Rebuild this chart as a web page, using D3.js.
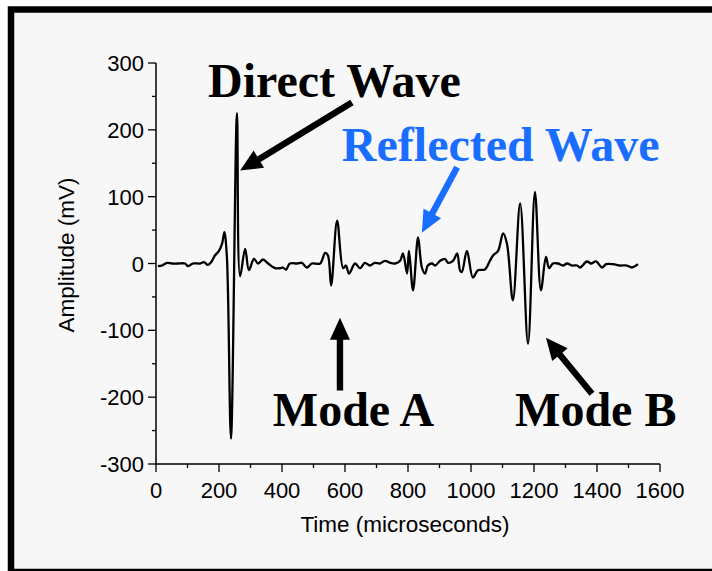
<!DOCTYPE html>
<html><head><meta charset="utf-8">
<script src="https://cdn.jsdelivr.net/npm/d3@7"></script>
<style>body{margin:0;background:#fff}svg{display:block}</style>
</head><body>
<svg id="c" width="712" height="571"></svg>
<script>
// time (microseconds)
const times = [6,19,35,51,70,92,102,117,140,152,165,175,187,200,210,217,225,238,257,267,283,295,311,324,340,356,378,394,403,413,425,448,463,479,495,521,537,546,556,575,594,603,613,632,648,663,679,695,711,727,743,759,775,784,797,803,816,832,844,854,863,876,886,902,917,927,943,956,965,971,987,1006,1022,1044,1060,1070,1086,1102,1114,1133,1156,1181,1203,1222,1238,1248,1260,1276,1292,1305,1321,1337,1346,1368,1381,1397,1416,1429,1451,1473,1495,1511,1530];
// amplitude (mV)
const amplitude = [-4,-3,1,0,0,0,-4,0,0,2,-2,2,12,19,30,47,10,-262,225,-19,22,-10,7,0,6,0,-7,-7,-6,-9,0,0,1,-6,0,0,16,12,-33,64,-7,-3,-15,0,-7,1,-3,1,0,4,1,0,4,15,-15,19,-40,39,-6,-15,-3,0,-3,4,7,1,4,15,-10,-13,19,-21,-10,-9,4,12,19,45,30,-55,90,-120,107,-40,10,-7,0,0,-3,0,-3,-3,-6,3,0,3,-6,-1,-1,-3,-3,-6,-1];
const xTicks = [0,200,400,600,800,1000,1200,1400,1600];
const yTicks = [-300,-200,-100,0,100,200,300];
const labels = ["Direct Wave","Reflected Wave","Mode A","Mode B"];
const labelT = [165,590,371,1140];
const labelV = [248.5,152.7,-242.5,-242.5];
const labelColor = ["#000","#1a6eff","#000","#000"];
// arrows: tail (t,v) -> tip (t,v)
const arrowTail = [[622,241],[956,144],[584,-190],[1384,-195]];
const arrowTip = [[267,139],[844,46],[584,-81],[1238,-111]];
const arrowColor = ["#000","#1a6eff","#000","#000"];

const svg = d3.select("#c");
svg.append("rect").attr("x",11).attr("y",9.5).attr("width",720).attr("height",562.5)
  .attr("fill","#f7f7f7").attr("stroke","#000").attr("stroke-width",6.5);

const x = d3.scaleLinear().domain([0,1600]).range([156,660]);
const y = d3.scaleLinear().domain([-300,300]).range([464,63]);

const font = "'Liberation Sans', Arial, sans-serif";
const g = svg.append("g");
d3.range(-300,301,50).forEach(v=>{
  const major = v%100===0;
  g.append("line").attr("x1",x(0)-(major?8:4)).attr("x2",x(0)).attr("y1",y(v)).attr("y2",y(v)).attr("stroke","#000").attr("stroke-width",1.3);
});
d3.range(0,1601,100).forEach(t=>{
  const major = t%200===0;
  g.append("line").attr("x1",x(t)).attr("x2",x(t)).attr("y1",y(-300)).attr("y2",y(-300)+(major?8:4)).attr("stroke","#000").attr("stroke-width",1.3);
});
g.append("line").attr("x1",x(0)).attr("x2",x(0)).attr("y1",y(300)).attr("y2",y(-300)).attr("stroke","#000").attr("stroke-width",1.5);
g.append("line").attr("x1",x(0)).attr("x2",x(1600)).attr("y1",y(-300)).attr("y2",y(-300)).attr("stroke","#000").attr("stroke-width",1.5);

g.selectAll(".yl").data(yTicks).join("text").attr("x",x(0)-12).attr("y",v=>y(v)+8)
  .attr("text-anchor","end").attr("font-family",font).attr("font-size",22).text(d=>d);
g.selectAll(".xl").data(xTicks).join("text").attr("x",t=>x(t)).attr("y",y(-300)+34)
  .attr("text-anchor","middle").attr("font-family",font).attr("font-size",22).text(d=>d);
svg.append("text").attr("x",405).attr("y",532).attr("text-anchor","middle").attr("font-family",font).attr("font-size",22.5).text("Time (microseconds)");
svg.append("text").attr("transform","translate(74,255) rotate(-90)").attr("text-anchor","middle").attr("font-family",font).attr("font-size",22.5).text("Amplitude (mV)");

const line = d3.line().x((d,i)=>x(times[i])).y((d,i)=>y(amplitude[i])).curve(d3.curveCatmullRom.alpha(0.5));
svg.append("path").attr("d",line(times)).attr("fill","none").attr("stroke","#000").attr("stroke-width",2.3).attr("stroke-linejoin","round");

labels.forEach((s,i)=>{
  svg.append("text").attr("x",x(labelT[i])).attr("y",y(labelV[i])).attr("font-family","'Liberation Serif','Times New Roman',serif")
    .attr("font-weight","bold").attr("font-size",48).attr("fill",labelColor[i]).text(s);
});

arrowTail.forEach((a,i)=>{
  const x0=x(a[0]),y0=y(a[1]),x1=x(arrowTip[i][0]),y1=y(arrowTip[i][1]);
  const dx=x1-x0,dy=y1-y0,L=Math.hypot(dx,dy),ux=dx/L,uy=dy/L,px=-uy,py=ux;
  const hl=22,hw=10,sw=3.2;
  const bx=x1-ux*hl,by=y1-uy*hl;
  const pts=[[x0+px*sw,y0+py*sw],[bx+px*sw,by+py*sw],[bx+px*hw,by+py*hw],[x1,y1],[bx-px*hw,by-py*hw],[bx-px*sw,by-py*sw],[x0-px*sw,y0-py*sw]];
  svg.append("polygon").attr("points",pts.map(p=>p.join(",")).join(" ")).attr("fill",arrowColor[i]);
});
</script>
</body></html>
